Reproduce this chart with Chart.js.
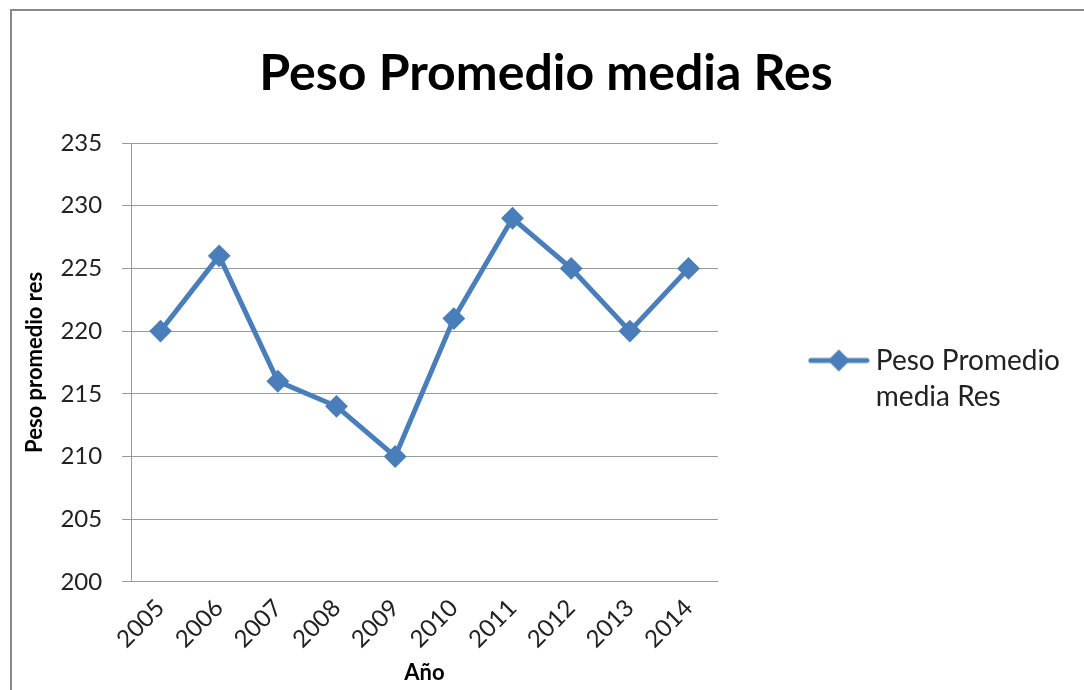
<!DOCTYPE html>
<html>
<head>
<meta charset="utf-8">
<script src="https://cdn.jsdelivr.net/npm/chart.js@4"></script>
<style>
  html, body { margin: 0; padding: 0; background: #fff; overflow: hidden; }
  #wrap { position: relative; width: 1084px; height: 690px; }
  #frame { position: absolute; left: 10px; top: 9px; width: 1100px; height: 700px; border: 2px solid #888; pointer-events: none; }
</style>
</head>
<body>
<div id="wrap">
  <canvas id="pesoChart" width="1084" height="690"></canvas>
  <div id="frame"></div>
</div>
<script>
// datos
var years = ['2005', '2006', '2007', '2008', '2009', '2010', '2011', '2012', '2013', '2014'];
var pesos = [220, 226, 216, 214, 210, 221, 229, 225, 220, 225];
var seriesName = ['Peso Promedio', 'media Res'];
var chartTitle = 'Peso Promedio media Res';
var xTitle = 'Año';
var yTitle = 'Peso promedio res';

var blue = '#4A7EBB';
var fontFam = 'Lato, "Open Sans", sans-serif';

// icono de leyenda: linea con rombo
var legendIcon = document.createElement('canvas');
legendIcon.width = 62;
legendIcon.height = 26;
var g = legendIcon.getContext('2d');
g.strokeStyle = blue;
g.lineWidth = 5;
g.lineCap = 'round';
g.beginPath();
g.moveTo(3, 13);
g.lineTo(59, 13);
g.stroke();
g.fillStyle = blue;
g.beginPath();
g.moveTo(31, 2);
g.lineTo(42, 13);
g.lineTo(31, 24);
g.lineTo(20, 13);
g.closePath();
g.fill();

var ctx = document.getElementById('pesoChart').getContext('2d');
var pesoChart = new Chart(ctx, {
    type: 'line',
    data: {
        labels: years,
        datasets: [{
            label: seriesName,
            data: pesos,
            borderColor: blue,
            backgroundColor: blue,
            borderWidth: 5,
            pointStyle: 'rectRot',
            pointRadius: 10,
            pointBorderWidth: 2,
            pointBackgroundColor: blue,
            pointBorderColor: blue,
            tension: 0,
            fill: false
        }]
    },
    options: {
        responsive: false,
        animation: false,
        layout: { padding: { left: 22, right: 14, top: 0, bottom: 4 } },
        plugins: {
            tooltip: { enabled: false },
            title: {
                display: true,
                text: chartTitle,
                color: '#000',
                font: { family: fontFam, size: 50, weight: 'bold' },
                padding: { top: 44, bottom: 39 }
            },
            legend: {
                position: 'right',
                fullSize: false,
                maxWidth: 500,
                title: {
                    display: true,
                    text: ' ',
                    font: { family: fontFam, size: 30, lineHeight: 1 },
                    padding: { top: 6, bottom: 6 }
                },
                labels: {
                    usePointStyle: true,
                    pointStyleWidth: 46,
                    color: '#222',
                    font: { family: fontFam, size: 28, lineHeight: 1.32 },
                    padding: 98,
                    generateLabels: function(chart) {
                        return [{
                            text: seriesName,
                            fontColor: '#222',
                            pointStyle: legendIcon,
                            fillStyle: blue,
                            strokeStyle: blue,
                            lineWidth: 0,
                            hidden: false,
                            datasetIndex: 0
                        }];
                    }
                }
            }
        },
        scales: {
            x: {
                offset: true,
                grid: { display: false, drawTicks: false },
                border: { display: true, color: '#999', width: 1 },
                ticks: {
                    color: '#222',
                    font: { family: fontFam, size: 24 },
                    minRotation: 45,
                    maxRotation: 45,
                    padding: 12
                },
                title: {
                    display: true,
                    text: xTitle,
                    color: '#000',
                    font: { family: fontFam, size: 22, weight: 'bold' },
                    padding: { top: -6, bottom: 0 }
                }
            },
            y: {
                min: 200,
                max: 235,
                grid: { color: '#999', lineWidth: 1, tickLength: 9 },
                border: { display: true, color: '#999', width: 1 },
                ticks: {
                    stepSize: 5,
                    color: '#222',
                    font: { family: fontFam, size: 24 },
                    padding: 20
                },
                title: {
                    display: true,
                    text: yTitle,
                    color: '#000',
                    font: { family: fontFam, size: 22, weight: 'bold' },
                    padding: { top: 0, bottom: -8 }
                }
            }
        }
    }
});
</script>
</body>
</html>
